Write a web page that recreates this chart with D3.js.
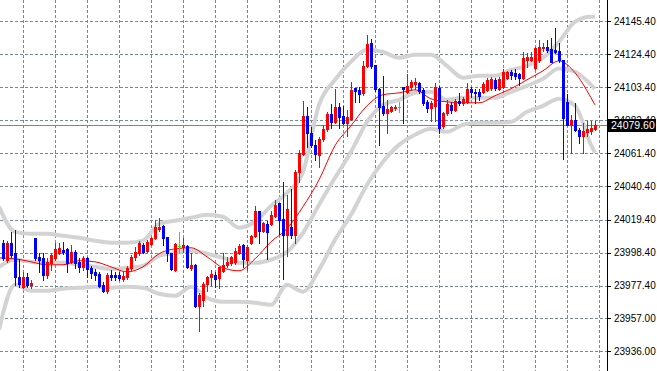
<!DOCTYPE html>
<html>
<head>
<meta charset="utf-8">
<script src="https://cdn.jsdelivr.net/npm/d3@7"></script>
<style>
  html, body { margin: 0; padding: 0; background: #fff; }
  svg { display: block; }
  .lbl { font-family: "Liberation Sans", Arial, sans-serif; font-size: 10px; }
</style>
</head>
<body>
<div id="chart"></div>
<script>
////////////////////////////////////////////////////////////////////////////////
// DATA (one bar per index)
////////////////////////////////////////////////////////////////////////////////
const openPrices = [
  24004.7, 23993.9, 24004.7, 23998.3, 23983.1, 23976.7, 23983.1, 23978.0, 24007.9, 23995.8,
  23995.1, 23984.3, 23992.0, 23995.1, 23998.3, 24000.2, 24000.8, 23992.6, 23998.9, 23992.6,
  23989.4, 23995.1, 23988.8, 23986.2, 23984.9, 23978.0, 23974.2, 23984.3, 23984.3, 23984.3,
  23981.8, 23983.1, 23988.8, 23995.8, 23998.3, 24003.4, 23999.6, 24004.1, 24007.9, 24013.6,
  24015.5, 24008.5, 23998.3, 23987.5, 24002.8, 24002.1, 24002.8, 23988.8, 23990.7, 23964.7,
  23968.5, 23978.7, 23983.1, 23984.3, 23982.4, 23986.9, 23990.7, 23992.0, 23992.6, 23998.3,
  24003.4, 23993.9, 24004.7, 24009.1, 24025.0, 24012.3, 24016.7, 24016.7, 24021.8, 24030.1,
  24019.9, 24009.8, 24014.8, 24009.8, 24049.7, 24061.1, 24085.3, 24074.5, 24066.8, 24060.5,
  24070.6, 24076.9, 24086.5, 24081.4, 24091.0, 24085.3, 24080.8, 24083.3, 24103.0, 24101.7,
  24099.8, 24117.0, 24131.6, 24117.6, 24102.4, 24091.6, 24087.2, 24088.4, 24090.3, 24091.0,
  24103.6, 24100.5, 24103.6, 24105.5, 24106.2, 24101.7, 24094.1, 24090.3, 24091.6, 24103.0,
  24078.9, 24087.2, 24092.2, 24089.1, 24094.8, 24093.5, 24094.1, 24102.4, 24100.5, 24100.5,
  24100.5, 24101.7, 24103.0, 24108.1, 24102.4, 24103.6, 24109.4, 24113.3, 24112.6, 24112.0,
  24109.4, 24120.8, 24120.8, 24115.8, 24120.8, 24128.4, 24129.1, 24127.8, 24127.1, 24126.5,
  24120.8, 24094.1, 24079.5, 24082.7, 24076.4, 24072.6, 24075.1, 24075.7, 24077.0
];
const highPrices = [
  24006.6, 24006.0, 24011.6, 24012.9, 23994.5, 23986.2, 23985.6, 23981.2, 24007.9, 23998.3,
  23998.3, 23995.1, 23998.3, 24004.7, 24004.7, 24005.3, 24001.5, 24003.4, 24000.2, 23995.1,
  23996.4, 23995.8, 23990.0, 23988.1, 23986.2, 23979.9, 23985.6, 23987.5, 23986.2, 23986.2,
  23986.2, 23990.0, 23997.0, 24002.1, 24006.0, 24004.7, 24006.6, 24008.5, 24019.3, 24020.5,
  24016.1, 24008.5, 23998.3, 24004.7, 24011.6, 24007.9, 24003.4, 23998.3, 23991.3, 23972.9,
  23979.9, 23983.7, 23987.5, 23986.2, 23989.4, 23998.3, 23995.8, 23996.4, 24001.5, 24004.1,
  24004.1, 24003.4, 24009.8, 24028.1, 24025.0, 24018.0, 24018.6, 24025.0, 24032.0, 24030.1,
  24043.4, 24035.1, 24038.9, 24051.0, 24063.7, 24094.8, 24090.9, 24078.3, 24070.0, 24071.9,
  24079.5, 24087.8, 24092.9, 24102.4, 24093.5, 24091.6, 24089.1, 24106.8, 24103.0, 24103.6,
  24120.1, 24136.7, 24134.2, 24117.6, 24103.0, 24110.6, 24095.4, 24091.6, 24092.2, 24094.1,
  24103.6, 24111.9, 24108.1, 24109.4, 24106.8, 24103.0, 24095.4, 24094.8, 24106.2, 24104.3,
  24087.8, 24095.4, 24094.1, 24096.0, 24099.8, 24097.3, 24106.2, 24103.6, 24102.4, 24102.4,
  24106.8, 24109.4, 24110.0, 24109.4, 24110.0, 24115.2, 24113.8, 24114.4, 24115.2, 24112.6,
  24125.8, 24125.2, 24125.8, 24129.1, 24133.5, 24131.6, 24133.5, 24134.8, 24141.1, 24131.6,
  24120.8, 24099.2, 24085.9, 24093.5, 24077.6, 24080.8, 24082.1, 24082.1, 24082.1
];
const lowPrices = [
  23993.9, 23992.6, 23995.8, 23978.0, 23976.7, 23976.1, 23976.7, 23976.1, 23993.9, 23986.2,
  23981.2, 23982.4, 23987.5, 23993.9, 23997.7, 23997.7, 23986.2, 23992.0, 23988.8, 23986.2,
  23987.5, 23983.1, 23982.4, 23981.2, 23976.7, 23973.6, 23972.9, 23981.2, 23981.2, 23981.2,
  23980.5, 23981.8, 23987.5, 23993.9, 23997.0, 23998.3, 23998.9, 24003.4, 24007.2, 24012.3,
  24003.4, 23993.3, 23987.5, 23986.9, 23998.3, 23998.9, 23988.8, 23987.5, 23964.1, 23948.9,
  23964.7, 23974.2, 23978.0, 23976.7, 23976.1, 23986.2, 23989.4, 23990.7, 23991.3, 23997.7,
  23989.4, 23987.5, 24004.1, 24008.5, 24004.7, 24011.6, 23994.5, 24016.1, 24021.2, 24010.4,
  23981.8, 23996.4, 24007.9, 24004.7, 24043.4, 24060.5, 24065.6, 24065.6, 24057.3, 24052.9,
  24069.4, 24075.7, 24077.6, 24080.8, 24077.6, 24080.2, 24072.6, 24082.7, 24094.1, 24094.1,
  24098.6, 24116.4, 24115.8, 24101.1, 24066.8, 24085.9, 24074.5, 24087.8, 24089.1, 24087.8,
  24080.8, 24099.8, 24101.7, 24102.4, 24099.8, 24092.2, 24087.8, 24082.1, 24082.1, 24074.5,
  24077.6, 24085.9, 24087.2, 24088.4, 24092.2, 24092.2, 24093.5, 24097.3, 24093.5, 24095.4,
  24099.8, 24101.1, 24101.7, 24101.7, 24101.7, 24103.0, 24108.7, 24108.7, 24108.7, 24104.9,
  24108.7, 24116.4, 24120.1, 24115.2, 24119.6, 24126.5, 24126.0, 24119.6, 24125.2, 24119.6,
  24057.9, 24079.5, 24061.8, 24075.7, 24068.1, 24061.8, 24072.6, 24073.8, 24076.4
];
const closePrices = [
  23995.1, 24004.7, 23997.0, 23983.1, 23978.7, 23983.1, 23978.0, 23979.3, 23995.1, 23993.9,
  23984.3, 23992.6, 23997.0, 24000.8, 24001.5, 23998.9, 23992.0, 23998.9, 23992.0, 23989.4,
  23995.1, 23988.1, 23985.6, 23984.3, 23977.4, 23974.2, 23984.3, 23983.1, 23983.1, 23982.4,
  23983.7, 23988.8, 23995.8, 23998.9, 24004.7, 23998.9, 24005.3, 24007.9, 24014.5, 24014.5,
  24007.9, 23998.3, 23988.1, 24004.1, 24002.8, 24003.4, 23989.4, 23990.7, 23964.7, 23971.7,
  23978.7, 23983.1, 23984.9, 23981.8, 23989.4, 23990.7, 23992.6, 23995.8, 23999.6, 24002.8,
  23994.5, 24002.1, 24009.1, 24025.0, 24012.3, 24017.4, 24011.6, 24022.4, 24028.8, 24019.3,
  24009.8, 24026.3, 24009.8, 24049.7, 24061.8, 24085.3, 24074.5, 24066.8, 24061.1, 24070.6,
  24076.9, 24086.5, 24081.4, 24091.0, 24084.6, 24080.8, 24084.6, 24101.7, 24101.1, 24099.2,
  24117.0, 24131.0, 24117.0, 24102.4, 24091.0, 24087.2, 24089.7, 24091.0, 24091.0, 24091.0,
  24102.4, 24104.3, 24106.8, 24106.8, 24101.1, 24093.5, 24090.3, 24093.5, 24103.6, 24077.6,
  24087.2, 24092.9, 24089.1, 24094.8, 24093.5, 24096.0, 24102.4, 24100.5, 24099.8, 24097.9,
  24105.5, 24108.1, 24108.7, 24103.0, 24108.7, 24113.3, 24113.3, 24111.4, 24110.6, 24109.4,
  24122.1, 24122.7, 24122.7, 24128.4, 24129.1, 24129.1, 24127.1, 24119.6, 24125.8, 24120.8,
  24084.0, 24079.5, 24082.7, 24076.4, 24072.6, 24075.7, 24077.0, 24077.6, 24079.6
];

// indicator values, read every 4th bar (bar -1 is the one just off the left edge)
const bandBars = [-1, 3, 7, 11, 15, 19, 23, 27, 31, 35, 39, 43, 47, 51, 55, 59, 63, 67, 71, 75,
  79, 83, 87, 91, 95, 99, 103, 107, 111, 115, 119, 123, 127, 131, 135, 139, 143, 147, 148];
const bandUpper = [
  24027.6, 24011.6, 24010.4, 24010.4, 24009.1, 24007.9, 24006.0, 24004.7, 24004.7, 24006.0,
  24016.7, 24018.6, 24020.5, 24022.4, 24021.2, 24014.2, 24018.0, 24028.1, 24036.4, 24049.7,
  24092.2, 24108.1, 24119.6, 24127.1, 24125.8, 24122.1, 24124.0, 24124.0, 24117.0, 24109.4,
  24110.6, 24110.6, 24114.4, 24117.0, 24122.1, 24132.2, 24144.9, 24148.1, 24148.1
];
const bandMiddle = [
  23989.4, 23993.9, 23992.6, 23992.0, 23992.0, 23990.7, 23989.4, 23988.1, 23988.8, 23990.0,
  23996.4, 23998.3, 23999.6, 23997.7, 23995.1, 23992.0, 23992.0, 23993.9, 23998.9, 24011.0,
  24028.8, 24045.9, 24062.4, 24081.4, 24092.2, 24095.4, 24099.8, 24100.5, 24095.4, 24096.7,
  24096.7, 24096.7, 24100.5, 24104.3, 24108.7, 24115.2, 24113.2, 24104.9, 24102.4
];
const bandLower = [
  23949.5, 23978.0, 23974.2, 23974.2, 23975.5, 23976.1, 23976.7, 23976.1, 23976.7, 23976.1,
  23972.3, 23971.0, 23976.7, 23969.7, 23967.2, 23967.2, 23966.6, 23965.3, 23978.0, 23973.6,
  23987.5, 24006.6, 24022.4, 24041.5, 24056.1, 24066.8, 24073.2, 24077.0, 24075.1, 24079.6,
  24080.8, 24080.8, 24081.4, 24087.8, 24091.6, 24096.0, 24091.6, 24066.8, 24061.8
];
const movingAverage = [
  23995.1, 23994.5, 23992.6, 23990.7, 23990.7, 23993.3, 23992.6, 23989.4, 23986.2, 23989.4,
  23997.7, 24000.8, 24001.5, 23995.8, 23988.8, 23986.9, 23994.5, 24005.3, 24013.6, 24027.6,
  24044.6, 24066.3, 24079.0, 24091.6, 24098.6, 24099.8, 24101.7, 24096.0, 24094.1, 24093.5,
  24093.5, 24098.0, 24102.4, 24108.1, 24113.8, 24120.1, 24112.6, 24096.7, 24092.2
];

const priceTicks = [24145.40, 24124.40, 24103.40, 24082.40, 24061.40, 24040.40,
  24019.40, 23998.40, 23977.40, 23957.00, 23936.00];
const lastPrice = 24079.60;

////////////////////////////////////////////////////////////////////////////////
// LAYOUT
////////////////////////////////////////////////////////////////////////////////
const width = 657;
const height = 371;
const axisX = 607;
const gridColor = '#778899';

const svg = d3.select('#chart').append('svg')
  .attr('width', width)
  .attr('height', height);

svg.append('rect').attr('width', width).attr('height', height).attr('fill', '#fff');

const xScale = d3.scaleLinear().domain([0, 148]).range([3, 595]);
const yScale = d3.scaleLinear().domain([23936, 24145.4]).range([351, 21]);

const px = i => Math.round(xScale(i));
const py = v => Math.round(yScale(v));

const plot = svg.append('g').attr('class', 'plot');

// dashed grid: one vertical line every 8 bars, one horizontal per price label
const gridBars = d3.range(5, 150, 8);
plot.append('g').selectAll('line').data(gridBars).join('line')
  .attr('x1', d => px(d) + 0.5).attr('x2', d => px(d) + 0.5)
  .attr('y1', 0).attr('y2', height)
  .attr('stroke', gridColor).attr('stroke-dasharray', '3,2')
  .attr('shape-rendering', 'crispEdges');

plot.append('g').selectAll('line').data(priceTicks).join('line')
  .attr('x1', 0).attr('x2', axisX)
  .attr('y1', d => py(d) + 0.5).attr('y2', d => py(d) + 0.5)
  .attr('stroke', gridColor).attr('stroke-dasharray', '3,2')
  .attr('shape-rendering', 'crispEdges');

// current price line
plot.append('line')
  .attr('x1', 0).attr('x2', axisX)
  .attr('y1', py(lastPrice) + 0.5).attr('y2', py(lastPrice) + 0.5)
  .attr('stroke', gridColor)
  .attr('shape-rendering', 'crispEdges');

// bollinger bands
const bandLine = d3.line()
  .x((d, i) => xScale(bandBars[i]))
  .y(d => yScale(d))
  .curve(d3.curveMonotoneX);

[bandUpper, bandMiddle, bandLower].forEach(series => {
  plot.append('path')
    .attr('d', bandLine(series))
    .attr('fill', 'none')
    .attr('stroke', '#d3d3d3')
    .attr('stroke-width', 4)
    .attr('stroke-linejoin', 'round');
});

// moving average
plot.append('path')
  .attr('d', bandLine(movingAverage))
  .attr('fill', 'none')
  .attr('stroke', '#ff0000')
  .attr('stroke-width', 1);

// candles
const bars = openPrices.map((o, i) => ({
  i, open: o, high: highPrices[i], low: lowPrices[i], close: closePrices[i]
}));
const barColor = d => d.close > d.open ? '#ff0000' : (d.close < d.open ? '#0000ff' : '#00ff00');

const candle = plot.append('g').attr('shape-rendering', 'crispEdges')
  .selectAll('g').data(bars).join('g');

candle.append('rect')
  .attr('x', d => px(d.i))
  .attr('width', 1)
  .attr('y', d => py(d.high))
  .attr('height', d => py(d.low) - py(d.high) + 1)
  .attr('fill', barColor);

candle.append('rect')
  .attr('x', d => px(d.i) - 1)
  .attr('width', 3)
  .attr('y', d => py(Math.max(d.open, d.close)))
  .attr('height', d => py(Math.min(d.open, d.close)) - py(Math.max(d.open, d.close)) + 1)
  .attr('fill', barColor);

// right price axis
svg.append('rect')
  .attr('x', axisX).attr('y', 0).attr('width', width - axisX).attr('height', height)
  .attr('fill', '#fff');

svg.append('line')
  .attr('x1', axisX + 0.5).attr('x2', axisX + 0.5)
  .attr('y1', 0).attr('y2', height)
  .attr('stroke', '#000')
  .attr('shape-rendering', 'crispEdges');

const yAxis = d3.axisRight(yScale)
  .tickValues(priceTicks)
  .tickFormat(d3.format('.2f'))
  .tickSize(3)
  .tickPadding(3);

const axisG = svg.append('g')
  .attr('transform', `translate(${axisX + 1}, 0)`)
  .call(yAxis);
axisG.select('.domain').remove();
axisG.selectAll('line').attr('stroke', '#000').attr('shape-rendering', 'crispEdges');
axisG.selectAll('text')
  .attr('class', 'lbl')
  .attr('fill', '#000')
  .style('font-family', '"Liberation Sans", Arial, sans-serif')
  .style('font-size', '10px');

// last price tag, drawn over the 24082.40 label like the terminal does
const tagY = py(lastPrice);
svg.append('rect')
  .attr('x', axisX + 1).attr('y', tagY - 6)
  .attr('width', 48).attr('height', 13)
  .attr('fill', '#000');
svg.append('text')
  .attr('class', 'lbl')
  .attr('x', axisX + 4).attr('y', tagY + 4)
  .attr('fill', '#fff')
  .style('font-size', '10.5px')
  .text(d3.format('.2f')(lastPrice));
</script>
</body>
</html>
